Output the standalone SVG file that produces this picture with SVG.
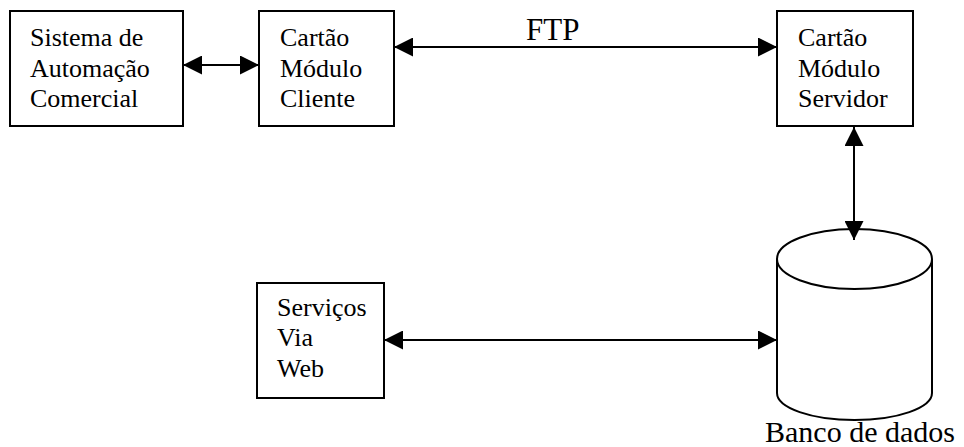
<svg xmlns="http://www.w3.org/2000/svg" width="964" height="447" viewBox="0 0 964 447">
<style>
.box{fill:#fff;stroke:#000;stroke-width:2}
.t{font-family:"Liberation Serif","Times New Roman",serif;font-size:26px;fill:#000}
.big{font-family:"Liberation Serif","Times New Roman",serif;font-size:31px;fill:#000}
.c{stroke:#000;stroke-width:2;fill:none;marker-start:url(#ah);marker-end:url(#ah)}
</style>
<defs>
<marker id="ah" viewBox="0 0 19 19" refX="19" refY="9.5" markerWidth="19" markerHeight="19" markerUnits="userSpaceOnUse" orient="auto-start-reverse">
<path d="M0,0 L19,9.5 L0,19 z" fill="#000"/>
</marker>
</defs>
<rect width="964" height="447" fill="#fff"/>
<g id="sistema">
<rect class="box" x="10" y="11" width="173" height="115"/>
<text class="t" x="30" y="46">Sistema de</text>
<text class="t" x="30" y="77">Automação</text>
<text class="t" x="30" y="107">Comercial</text>
</g>
<g id="cliente">
<rect class="box" x="259" y="11" width="135" height="115"/>
<text class="t" x="280" y="46">Cartão</text>
<text class="t" x="280" y="77">Módulo</text>
<text class="t" x="280" y="107">Cliente</text>
</g>
<g id="servidor">
<rect class="box" x="777" y="11" width="136" height="115"/>
<text class="t" x="798" y="46">Cartão</text>
<text class="t" x="798" y="77">Módulo</text>
<text class="t" x="798" y="107">Servidor</text>
</g>
<g id="web">
<rect class="box" x="257" y="283" width="127" height="115"/>
<text class="t" x="277" y="316">Serviços</text>
<text class="t" x="277" y="346">Via</text>
<text class="t" x="277" y="377">Web</text>
</g>
<g id="banco">
<path d="M777,259 V393 A77.5 27 0 0 0 932 393 V259" fill="#fff" stroke="#000" stroke-width="2"/>
<ellipse cx="854.5" cy="259" rx="77.5" ry="30" fill="#fff" stroke="#000" stroke-width="2"/>
<text class="big" x="765" y="442" style="font-size:30px">Banco de dados</text>
</g>
<g id="connectors">
<line class="c" x1="183" y1="65" x2="259" y2="65"/>
<line class="c" x1="394" y1="47" x2="777" y2="47"/>
<text class="big" x="526" y="40">FTP</text>
<line class="c" x1="854" y1="127" x2="854" y2="240"/>
<line class="c" x1="384" y1="340" x2="777" y2="340"/>
</g>
</svg>
